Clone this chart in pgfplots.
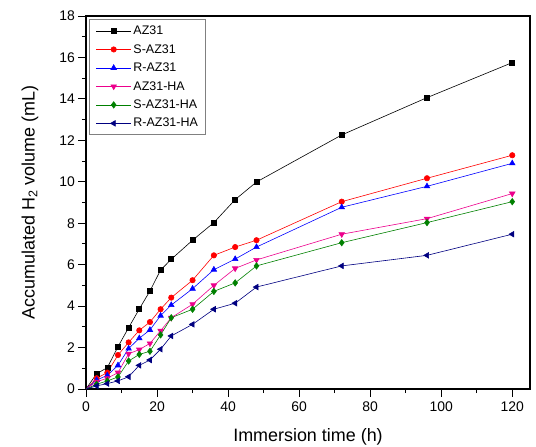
\documentclass[border=0pt]{standalone}
\usepackage{pgfplots}
\pgfplotsset{compat=1.18}
\usepackage{fontspec}
\setmainfont{Liberation Sans}
\definecolor{navyc}{RGB}{0,0,128}
\definecolor{greenc}{RGB}{0,128,0}
\begin{document}
\begin{tikzpicture}
\useasboundingbox (-86bp,-58bp) rectangle (450bp,389bp);
\begin{axis}[
  scale only axis,
  width=444bp, height=373bp,
  xmin=0, xmax=125, ymin=0, ymax=18,
  xtick={0,20,...,120}, ytick={0,2,...,18},
  minor x tick num=1, minor y tick num=1,
  xtick pos=left, ytick pos=left,
  tick align=outside,
  major tick length=7.5bp, minor tick length=4bp,
  every tick/.style={black, line width=0.9bp},
  axis line style={line width=1.1bp},
  /pgf/number format/assume math mode=true,
  tick label style={font=\fontsize{14}{16}\selectfont},
  xticklabel style={yshift=-2bp},
  xlabel={Immersion time (h)},
  ylabel={Accumulated H\textsubscript{2} volume (mL)},
  label style={font=\fontsize{18}{21}\selectfont},
  xlabel style={at={([yshift=-48bp]axis description cs:0.5,0)}, anchor=center},
  ylabel style={at={([xshift=-56bp]axis description cs:0,0.5)}, anchor=center},
  legend style={at={(axis description cs:0,1)}, anchor=north west, xshift=3.5bp, yshift=-3.5bp,
     draw=gray, line width=0.8bp, font=\fontsize{12.5}{14}\selectfont, row sep=4.3bp, inner sep=2bp,
     inner xsep=6bp, inner ysep=4bp},
  legend cell align=left,
  legend image code/.code={\draw[mark repeat=2,mark phase=2,line width=0.6bp] plot coordinates {(0bp,0bp) (17.5bp,0bp) (35bp,0bp)};},
  every axis plot/.append style={line width=0.6bp, mark repeat=1, mark phase=2},
]
\addplot[black, mark=square*, mark size=2.5bp, mark options={solid, fill=black}] coordinates {
(0,0) (3,0.74) (6,1.03) (9,2.04) (12,2.96) (15,3.86) (18,4.73) (21,5.74) (24,6.26) (30,7.18) (36,8.03) (42,9.14) (48,9.99) (72,12.26) (96,14.06) (120,15.75)};
\addlegendentry{AZ31}
\addplot[red, mark=*, mark size=2.7bp, mark options={solid, fill=red}] coordinates {
(0,0) (3,0.52) (6,0.79) (9,1.64) (12,2.25) (15,2.83) (18,3.23) (21,3.85) (24,4.41) (30,5.25) (36,6.45) (42,6.85) (48,7.18) (72,9.04) (96,10.17) (120,11.28)};
\addlegendentry{S-AZ31}
\addplot[blue, mark=triangle*, mark size=3.2bp, mark options={solid, fill=blue}] coordinates {
(0,0) (3,0.43) (6,0.66) (9,1.14) (12,1.95) (15,2.45) (18,2.85) (21,3.54) (24,4.05) (30,4.84) (36,5.76) (42,6.27) (48,6.85) (72,8.77) (96,9.78) (120,10.89)};
\addlegendentry{R-AZ31}
\addplot[magenta, mark=triangle*, mark size=3.2bp, mark options={solid, fill=magenta, rotate=180}] coordinates {
(0,0) (3,0.35) (6,0.52) (9,0.79) (12,1.70) (15,1.90) (18,2.20) (21,2.81) (24,3.44) (30,4.09) (36,5.00) (42,5.82) (48,6.23) (72,7.47) (96,8.22) (120,9.43)};
\addlegendentry{AZ31-HA}
\addplot[greenc, mark=diamond*, mark size=3.2bp, mark options={solid, fill=greenc}] coordinates {
(0,0) (3,0.23) (6,0.39) (9,0.58) (12,1.35) (15,1.67) (18,1.82) (21,2.61) (24,3.44) (30,3.85) (36,4.71) (42,5.12) (48,5.94) (72,7.06) (96,8.03) (120,9.04)};
\addlegendentry{S-AZ31-HA}
\addplot[navyc, mark=triangle*, mark size=3.2bp, mark options={solid, fill=navyc, rotate=90}] coordinates {
(0,0) (3,0.15) (6,0.26) (9,0.39) (12,0.59) (15,1.14) (18,1.40) (21,1.92) (24,2.56) (30,3.12) (36,3.85) (42,4.14) (48,4.92) (72,5.94) (96,6.45) (120,7.47)};
\addlegendentry{R-AZ31-HA}
\end{axis}
\end{tikzpicture}
\end{document}
